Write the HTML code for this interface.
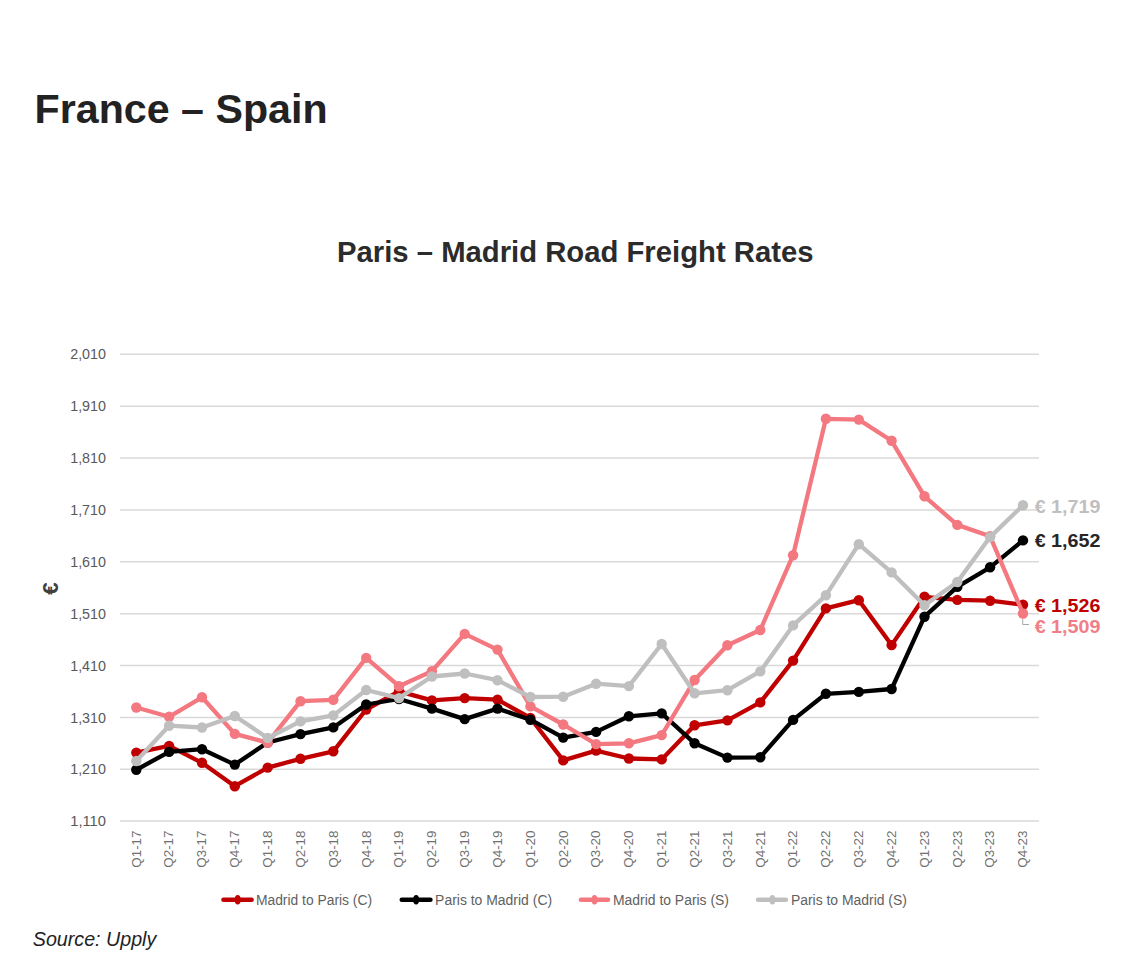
<!DOCTYPE html>
<html><head><meta charset="utf-8"><title>France – Spain</title>
<style>
html,body{margin:0;padding:0;background:#fff;}
body{width:1138px;height:980px;overflow:hidden;position:relative;}
svg{position:absolute;left:0;top:0;display:block;}
.ax{font-family:"Liberation Sans",Arial,sans-serif;font-size:14px;fill:#595959;}
.h1{font-family:"Liberation Sans",Arial,sans-serif;font-weight:bold;font-size:41.5px;fill:#222;}
.h2{font-family:"Liberation Sans",Arial,sans-serif;font-weight:bold;font-size:30px;fill:#2b2b2b;}
.src{font-family:"Liberation Sans",Arial,sans-serif;font-style:italic;font-size:20px;fill:#222;}
.lg{fill:#616161;}
.xl{font-size:13px;fill:#707070;}
.dl{font-family:"Liberation Sans",Arial,sans-serif;font-weight:bold;font-size:18.5px;}
</style></head>
<body>
<svg width="1138" height="980" viewBox="0 0 1138 980">
<text class="h1" x="34.6" y="122.9" textLength="293" lengthAdjust="spacingAndGlyphs">France – Spain</text>
<text class="h2" x="337" y="261.9" textLength="476.5" lengthAdjust="spacingAndGlyphs">Paris – Madrid Road Freight Rates</text>
<g class="grid">
<line x1="120" x2="1039" y1="354.3" y2="354.3" stroke="#d9d9d9" stroke-width="1.5"/>
<line x1="120" x2="1039" y1="406.2" y2="406.2" stroke="#d9d9d9" stroke-width="1.5"/>
<line x1="120" x2="1039" y1="458.0" y2="458.0" stroke="#d9d9d9" stroke-width="1.5"/>
<line x1="120" x2="1039" y1="509.9" y2="509.9" stroke="#d9d9d9" stroke-width="1.5"/>
<line x1="120" x2="1039" y1="561.8" y2="561.8" stroke="#d9d9d9" stroke-width="1.5"/>
<line x1="120" x2="1039" y1="613.7" y2="613.7" stroke="#d9d9d9" stroke-width="1.5"/>
<line x1="120" x2="1039" y1="665.5" y2="665.5" stroke="#d9d9d9" stroke-width="1.5"/>
<line x1="120" x2="1039" y1="717.4" y2="717.4" stroke="#d9d9d9" stroke-width="1.5"/>
<line x1="120" x2="1039" y1="769.3" y2="769.3" stroke="#d9d9d9" stroke-width="1.5"/>
<line x1="120" x2="1039" y1="821.1" y2="821.1" stroke="#d9d9d9" stroke-width="1.5"/>
</g>
<g class="ax">
<text x="106" y="359.4" text-anchor="end" textLength="35.8" lengthAdjust="spacingAndGlyphs">2,010</text>
<text x="106" y="411.3" text-anchor="end" textLength="35.8" lengthAdjust="spacingAndGlyphs">1,910</text>
<text x="106" y="463.1" text-anchor="end" textLength="35.8" lengthAdjust="spacingAndGlyphs">1,810</text>
<text x="106" y="515.0" text-anchor="end" textLength="35.8" lengthAdjust="spacingAndGlyphs">1,710</text>
<text x="106" y="566.9" text-anchor="end" textLength="35.8" lengthAdjust="spacingAndGlyphs">1,610</text>
<text x="106" y="618.8" text-anchor="end" textLength="35.8" lengthAdjust="spacingAndGlyphs">1,510</text>
<text x="106" y="670.6" text-anchor="end" textLength="35.8" lengthAdjust="spacingAndGlyphs">1,410</text>
<text x="106" y="722.5" text-anchor="end" textLength="35.8" lengthAdjust="spacingAndGlyphs">1,310</text>
<text x="106" y="774.4" text-anchor="end" textLength="35.8" lengthAdjust="spacingAndGlyphs">1,210</text>
<text x="106" y="826.2" text-anchor="end" textLength="35.8" lengthAdjust="spacingAndGlyphs">1,110</text>
<text class="xl" transform="translate(140.6,830.5) rotate(-90)" text-anchor="end" textLength="37.2" lengthAdjust="spacingAndGlyphs">Q1-17</text>
<text class="xl" transform="translate(173.4,830.5) rotate(-90)" text-anchor="end" textLength="37.2" lengthAdjust="spacingAndGlyphs">Q2-17</text>
<text class="xl" transform="translate(206.3,830.5) rotate(-90)" text-anchor="end" textLength="37.2" lengthAdjust="spacingAndGlyphs">Q3-17</text>
<text class="xl" transform="translate(239.1,830.5) rotate(-90)" text-anchor="end" textLength="37.2" lengthAdjust="spacingAndGlyphs">Q4-17</text>
<text class="xl" transform="translate(272.0,830.5) rotate(-90)" text-anchor="end" textLength="37.2" lengthAdjust="spacingAndGlyphs">Q1-18</text>
<text class="xl" transform="translate(304.8,830.5) rotate(-90)" text-anchor="end" textLength="37.2" lengthAdjust="spacingAndGlyphs">Q2-18</text>
<text class="xl" transform="translate(337.6,830.5) rotate(-90)" text-anchor="end" textLength="37.2" lengthAdjust="spacingAndGlyphs">Q3-18</text>
<text class="xl" transform="translate(370.5,830.5) rotate(-90)" text-anchor="end" textLength="37.2" lengthAdjust="spacingAndGlyphs">Q4-18</text>
<text class="xl" transform="translate(403.3,830.5) rotate(-90)" text-anchor="end" textLength="37.2" lengthAdjust="spacingAndGlyphs">Q1-19</text>
<text class="xl" transform="translate(436.2,830.5) rotate(-90)" text-anchor="end" textLength="37.2" lengthAdjust="spacingAndGlyphs">Q2-19</text>
<text class="xl" transform="translate(469.0,830.5) rotate(-90)" text-anchor="end" textLength="37.2" lengthAdjust="spacingAndGlyphs">Q3-19</text>
<text class="xl" transform="translate(501.8,830.5) rotate(-90)" text-anchor="end" textLength="37.2" lengthAdjust="spacingAndGlyphs">Q4-19</text>
<text class="xl" transform="translate(534.7,830.5) rotate(-90)" text-anchor="end" textLength="37.2" lengthAdjust="spacingAndGlyphs">Q1-20</text>
<text class="xl" transform="translate(567.5,830.5) rotate(-90)" text-anchor="end" textLength="37.2" lengthAdjust="spacingAndGlyphs">Q2-20</text>
<text class="xl" transform="translate(600.4,830.5) rotate(-90)" text-anchor="end" textLength="37.2" lengthAdjust="spacingAndGlyphs">Q3-20</text>
<text class="xl" transform="translate(633.2,830.5) rotate(-90)" text-anchor="end" textLength="37.2" lengthAdjust="spacingAndGlyphs">Q4-20</text>
<text class="xl" transform="translate(666.0,830.5) rotate(-90)" text-anchor="end" textLength="37.2" lengthAdjust="spacingAndGlyphs">Q1-21</text>
<text class="xl" transform="translate(698.9,830.5) rotate(-90)" text-anchor="end" textLength="37.2" lengthAdjust="spacingAndGlyphs">Q2-21</text>
<text class="xl" transform="translate(731.7,830.5) rotate(-90)" text-anchor="end" textLength="37.2" lengthAdjust="spacingAndGlyphs">Q3-21</text>
<text class="xl" transform="translate(764.6,830.5) rotate(-90)" text-anchor="end" textLength="37.2" lengthAdjust="spacingAndGlyphs">Q4-21</text>
<text class="xl" transform="translate(797.4,830.5) rotate(-90)" text-anchor="end" textLength="37.2" lengthAdjust="spacingAndGlyphs">Q1-22</text>
<text class="xl" transform="translate(830.2,830.5) rotate(-90)" text-anchor="end" textLength="37.2" lengthAdjust="spacingAndGlyphs">Q2-22</text>
<text class="xl" transform="translate(863.1,830.5) rotate(-90)" text-anchor="end" textLength="37.2" lengthAdjust="spacingAndGlyphs">Q3-22</text>
<text class="xl" transform="translate(895.9,830.5) rotate(-90)" text-anchor="end" textLength="37.2" lengthAdjust="spacingAndGlyphs">Q4-22</text>
<text class="xl" transform="translate(928.8,830.5) rotate(-90)" text-anchor="end" textLength="37.2" lengthAdjust="spacingAndGlyphs">Q1-23</text>
<text class="xl" transform="translate(961.6,830.5) rotate(-90)" text-anchor="end" textLength="37.2" lengthAdjust="spacingAndGlyphs">Q2-23</text>
<text class="xl" transform="translate(994.4,830.5) rotate(-90)" text-anchor="end" textLength="37.2" lengthAdjust="spacingAndGlyphs">Q3-23</text>
<text class="xl" transform="translate(1027.3,830.5) rotate(-90)" text-anchor="end" textLength="37.2" lengthAdjust="spacingAndGlyphs">Q4-23</text>
</g>
<text class="dl" transform="translate(57.6,588.5) rotate(-90)" text-anchor="middle" style="font-size:22.5px;fill:#404040">€</text>
<polyline points="136.3,752.6 169.1,745.9 202.0,762.8 234.8,786.2 267.7,767.6 300.5,758.8 333.3,751.3 366.2,709.5 399.0,691.4 431.9,700.4 464.7,698.1 497.5,699.6 530.4,718.0 563.2,760.4 596.1,750.6 628.9,758.5 661.7,759.4 694.6,725.3 727.4,720.4 760.3,702.4 793.1,660.6 825.9,608.4 858.8,600.2 891.6,645.1 924.5,596.8 957.3,599.9 990.1,600.7 1023.0,604.8" fill="none" stroke="#c00000" stroke-width="4.3" stroke-linejoin="round" stroke-linecap="round"/>
<circle cx="136.3" cy="752.6" r="5.2" fill="#c00000"/><circle cx="169.1" cy="745.9" r="5.2" fill="#c00000"/><circle cx="202.0" cy="762.8" r="5.2" fill="#c00000"/><circle cx="234.8" cy="786.2" r="5.2" fill="#c00000"/><circle cx="267.7" cy="767.6" r="5.2" fill="#c00000"/><circle cx="300.5" cy="758.8" r="5.2" fill="#c00000"/><circle cx="333.3" cy="751.3" r="5.2" fill="#c00000"/><circle cx="366.2" cy="709.5" r="5.2" fill="#c00000"/><circle cx="399.0" cy="691.4" r="5.2" fill="#c00000"/><circle cx="431.9" cy="700.4" r="5.2" fill="#c00000"/><circle cx="464.7" cy="698.1" r="5.2" fill="#c00000"/><circle cx="497.5" cy="699.6" r="5.2" fill="#c00000"/><circle cx="530.4" cy="718.0" r="5.2" fill="#c00000"/><circle cx="563.2" cy="760.4" r="5.2" fill="#c00000"/><circle cx="596.1" cy="750.6" r="5.2" fill="#c00000"/><circle cx="628.9" cy="758.5" r="5.2" fill="#c00000"/><circle cx="661.7" cy="759.4" r="5.2" fill="#c00000"/><circle cx="694.6" cy="725.3" r="5.2" fill="#c00000"/><circle cx="727.4" cy="720.4" r="5.2" fill="#c00000"/><circle cx="760.3" cy="702.4" r="5.2" fill="#c00000"/><circle cx="793.1" cy="660.6" r="5.2" fill="#c00000"/><circle cx="825.9" cy="608.4" r="5.2" fill="#c00000"/><circle cx="858.8" cy="600.2" r="5.2" fill="#c00000"/><circle cx="891.6" cy="645.1" r="5.2" fill="#c00000"/><circle cx="924.5" cy="596.8" r="5.2" fill="#c00000"/><circle cx="957.3" cy="599.9" r="5.2" fill="#c00000"/><circle cx="990.1" cy="600.7" r="5.2" fill="#c00000"/><circle cx="1023.0" cy="604.8" r="5.2" fill="#c00000"/>
<polyline points="136.3,769.8 169.1,751.9 202.0,749.2 234.8,764.6 267.7,742.5 300.5,734.1 333.3,727.4 366.2,704.5 399.0,699.0 431.9,708.6 464.7,719.1 497.5,708.6 530.4,719.7 563.2,737.6 596.1,731.9 628.9,716.3 661.7,713.4 694.6,743.3 727.4,757.6 760.3,757.3 793.1,719.9 825.9,693.8 858.8,691.9 891.6,689.0 924.5,616.7 957.3,586.9 990.1,567.3 1023.0,540.4" fill="none" stroke="#000000" stroke-width="4.3" stroke-linejoin="round" stroke-linecap="round"/>
<circle cx="136.3" cy="769.8" r="5.2" fill="#000000"/><circle cx="169.1" cy="751.9" r="5.2" fill="#000000"/><circle cx="202.0" cy="749.2" r="5.2" fill="#000000"/><circle cx="234.8" cy="764.6" r="5.2" fill="#000000"/><circle cx="267.7" cy="742.5" r="5.2" fill="#000000"/><circle cx="300.5" cy="734.1" r="5.2" fill="#000000"/><circle cx="333.3" cy="727.4" r="5.2" fill="#000000"/><circle cx="366.2" cy="704.5" r="5.2" fill="#000000"/><circle cx="399.0" cy="699.0" r="5.2" fill="#000000"/><circle cx="431.9" cy="708.6" r="5.2" fill="#000000"/><circle cx="464.7" cy="719.1" r="5.2" fill="#000000"/><circle cx="497.5" cy="708.6" r="5.2" fill="#000000"/><circle cx="530.4" cy="719.7" r="5.2" fill="#000000"/><circle cx="563.2" cy="737.6" r="5.2" fill="#000000"/><circle cx="596.1" cy="731.9" r="5.2" fill="#000000"/><circle cx="628.9" cy="716.3" r="5.2" fill="#000000"/><circle cx="661.7" cy="713.4" r="5.2" fill="#000000"/><circle cx="694.6" cy="743.3" r="5.2" fill="#000000"/><circle cx="727.4" cy="757.6" r="5.2" fill="#000000"/><circle cx="760.3" cy="757.3" r="5.2" fill="#000000"/><circle cx="793.1" cy="719.9" r="5.2" fill="#000000"/><circle cx="825.9" cy="693.8" r="5.2" fill="#000000"/><circle cx="858.8" cy="691.9" r="5.2" fill="#000000"/><circle cx="891.6" cy="689.0" r="5.2" fill="#000000"/><circle cx="924.5" cy="616.7" r="5.2" fill="#000000"/><circle cx="957.3" cy="586.9" r="5.2" fill="#000000"/><circle cx="990.1" cy="567.3" r="5.2" fill="#000000"/><circle cx="1023.0" cy="540.4" r="5.2" fill="#000000"/>
<polyline points="136.3,707.5 169.1,716.8 202.0,697.3 234.8,733.9 267.7,742.7 300.5,701.2 333.3,699.8 366.2,657.9 399.0,686.2 431.9,671.2 464.7,633.9 497.5,649.6 530.4,706.4 563.2,724.5 596.1,744.1 628.9,743.3 661.7,735.1 694.6,680.0 727.4,645.3 760.3,630.0 793.1,555.2 825.9,418.8 858.8,419.6 891.6,440.8 924.5,496.3 957.3,524.9 990.1,536.3 1023.0,613.5" fill="none" stroke="#f37880" stroke-width="4.3" stroke-linejoin="round" stroke-linecap="round"/>
<circle cx="136.3" cy="707.5" r="5.2" fill="#f37880"/><circle cx="169.1" cy="716.8" r="5.2" fill="#f37880"/><circle cx="202.0" cy="697.3" r="5.2" fill="#f37880"/><circle cx="234.8" cy="733.9" r="5.2" fill="#f37880"/><circle cx="267.7" cy="742.7" r="5.2" fill="#f37880"/><circle cx="300.5" cy="701.2" r="5.2" fill="#f37880"/><circle cx="333.3" cy="699.8" r="5.2" fill="#f37880"/><circle cx="366.2" cy="657.9" r="5.2" fill="#f37880"/><circle cx="399.0" cy="686.2" r="5.2" fill="#f37880"/><circle cx="431.9" cy="671.2" r="5.2" fill="#f37880"/><circle cx="464.7" cy="633.9" r="5.2" fill="#f37880"/><circle cx="497.5" cy="649.6" r="5.2" fill="#f37880"/><circle cx="530.4" cy="706.4" r="5.2" fill="#f37880"/><circle cx="563.2" cy="724.5" r="5.2" fill="#f37880"/><circle cx="596.1" cy="744.1" r="5.2" fill="#f37880"/><circle cx="628.9" cy="743.3" r="5.2" fill="#f37880"/><circle cx="661.7" cy="735.1" r="5.2" fill="#f37880"/><circle cx="694.6" cy="680.0" r="5.2" fill="#f37880"/><circle cx="727.4" cy="645.3" r="5.2" fill="#f37880"/><circle cx="760.3" cy="630.0" r="5.2" fill="#f37880"/><circle cx="793.1" cy="555.2" r="5.2" fill="#f37880"/><circle cx="825.9" cy="418.8" r="5.2" fill="#f37880"/><circle cx="858.8" cy="419.6" r="5.2" fill="#f37880"/><circle cx="891.6" cy="440.8" r="5.2" fill="#f37880"/><circle cx="924.5" cy="496.3" r="5.2" fill="#f37880"/><circle cx="957.3" cy="524.9" r="5.2" fill="#f37880"/><circle cx="990.1" cy="536.3" r="5.2" fill="#f37880"/><circle cx="1023.0" cy="613.5" r="5.2" fill="#f37880"/>
<polyline points="136.3,761.0 169.1,725.7 202.0,727.5 234.8,716.0 267.7,738.0 300.5,721.4 333.3,715.4 366.2,690.0 399.0,698.1 431.9,676.5 464.7,673.5 497.5,680.2 530.4,697.0 563.2,696.7 596.1,683.7 628.9,686.1 661.7,644.0 694.6,693.3 727.4,690.2 760.3,671.4 793.1,625.4 825.9,595.3 858.8,544.2 891.6,572.4 924.5,605.3 957.3,582.0 990.1,537.1 1023.0,505.3" fill="none" stroke="#bfbfbf" stroke-width="4.3" stroke-linejoin="round" stroke-linecap="round"/>
<circle cx="136.3" cy="761.0" r="5.2" fill="#bfbfbf"/><circle cx="169.1" cy="725.7" r="5.2" fill="#bfbfbf"/><circle cx="202.0" cy="727.5" r="5.2" fill="#bfbfbf"/><circle cx="234.8" cy="716.0" r="5.2" fill="#bfbfbf"/><circle cx="267.7" cy="738.0" r="5.2" fill="#bfbfbf"/><circle cx="300.5" cy="721.4" r="5.2" fill="#bfbfbf"/><circle cx="333.3" cy="715.4" r="5.2" fill="#bfbfbf"/><circle cx="366.2" cy="690.0" r="5.2" fill="#bfbfbf"/><circle cx="399.0" cy="698.1" r="5.2" fill="#bfbfbf"/><circle cx="431.9" cy="676.5" r="5.2" fill="#bfbfbf"/><circle cx="464.7" cy="673.5" r="5.2" fill="#bfbfbf"/><circle cx="497.5" cy="680.2" r="5.2" fill="#bfbfbf"/><circle cx="530.4" cy="697.0" r="5.2" fill="#bfbfbf"/><circle cx="563.2" cy="696.7" r="5.2" fill="#bfbfbf"/><circle cx="596.1" cy="683.7" r="5.2" fill="#bfbfbf"/><circle cx="628.9" cy="686.1" r="5.2" fill="#bfbfbf"/><circle cx="661.7" cy="644.0" r="5.2" fill="#bfbfbf"/><circle cx="694.6" cy="693.3" r="5.2" fill="#bfbfbf"/><circle cx="727.4" cy="690.2" r="5.2" fill="#bfbfbf"/><circle cx="760.3" cy="671.4" r="5.2" fill="#bfbfbf"/><circle cx="793.1" cy="625.4" r="5.2" fill="#bfbfbf"/><circle cx="825.9" cy="595.3" r="5.2" fill="#bfbfbf"/><circle cx="858.8" cy="544.2" r="5.2" fill="#bfbfbf"/><circle cx="891.6" cy="572.4" r="5.2" fill="#bfbfbf"/><circle cx="924.5" cy="605.3" r="5.2" fill="#bfbfbf"/><circle cx="957.3" cy="582.0" r="5.2" fill="#bfbfbf"/><circle cx="990.1" cy="537.1" r="5.2" fill="#bfbfbf"/><circle cx="1023.0" cy="505.3" r="5.2" fill="#bfbfbf"/>

<polyline points="1022.7,619 1022.7,624.5 1029,624.5" fill="none" stroke="#a6a6a6" stroke-width="1"/>
<text class="dl" x="1034.7" y="512.6" fill="#bfbfbf" textLength="65.7" lengthAdjust="spacingAndGlyphs">€ 1,719</text>
<text class="dl" x="1034.7" y="546.9" fill="#262626" textLength="65.7" lengthAdjust="spacingAndGlyphs">€ 1,652</text>
<text class="dl" x="1034.7" y="611.9" fill="#c00000" textLength="65.7" lengthAdjust="spacingAndGlyphs">€ 1,526</text>
<text class="dl" x="1034.7" y="632.6" fill="#f17e86" textLength="65.7" lengthAdjust="spacingAndGlyphs">€ 1,509</text>
<g class="ax">
<line x1="223.5" x2="251.6" y1="899.8" y2="899.8" stroke="#c00000" stroke-width="4.6" stroke-linecap="round"/><ellipse cx="237.7" cy="899.8" rx="3" ry="4.7" fill="#c00000"/><text class="lg" x="255.9" y="904.5" textLength="116.2" lengthAdjust="spacingAndGlyphs">Madrid to Paris (C)</text>
<line x1="401.8" x2="430.4" y1="899.8" y2="899.8" stroke="#000000" stroke-width="4.6" stroke-linecap="round"/><ellipse cx="416.1" cy="899.8" rx="3" ry="4.7" fill="#000000"/><text class="lg" x="435.1" y="904.5" textLength="117.0" lengthAdjust="spacingAndGlyphs">Paris to Madrid (C)</text>
<line x1="581.0" x2="608.0" y1="899.8" y2="899.8" stroke="#f37880" stroke-width="4.6" stroke-linecap="round"/><ellipse cx="594.5" cy="899.8" rx="3" ry="4.7" fill="#f37880"/><text class="lg" x="613.0" y="904.5" textLength="116.0" lengthAdjust="spacingAndGlyphs">Madrid to Paris (S)</text>
<line x1="758.1" x2="785.9" y1="899.8" y2="899.8" stroke="#bfbfbf" stroke-width="4.6" stroke-linecap="round"/><ellipse cx="772.4" cy="899.8" rx="3" ry="4.7" fill="#bfbfbf"/><text class="lg" x="790.9" y="904.5" textLength="116.0" lengthAdjust="spacingAndGlyphs">Paris to Madrid (S)</text>
</g>
<text class="src" x="32.8" y="945.6" textLength="123.5" lengthAdjust="spacingAndGlyphs">Source: Upply</text>
</svg>
</body></html>
